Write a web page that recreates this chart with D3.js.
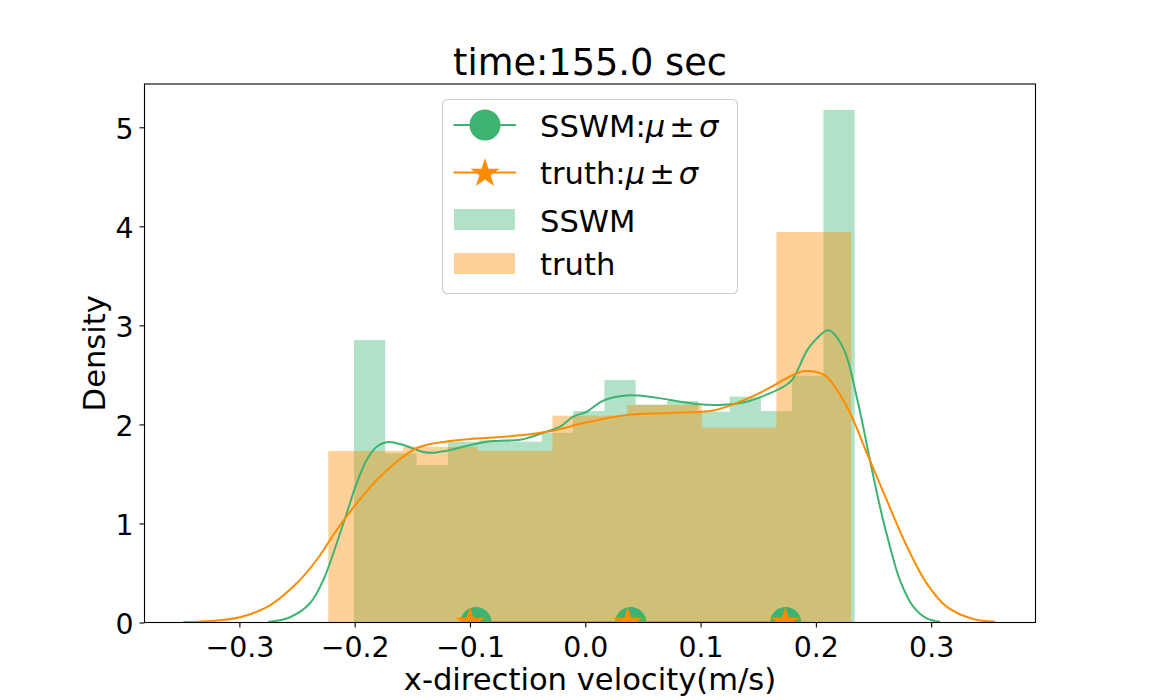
<!DOCTYPE html>
<html>
<head>
<meta charset="utf-8">
<script src="https://cdn.jsdelivr.net/npm/d3@7"></script>
<style>
  body { margin: 0; background: #fff; }
  text { font-family: "DejaVu Sans", sans-serif; }
</style>
</head>
<body>
<div id="chart"></div>
<script>
// histogram bin edges and densities
var sswmEdges = [-0.2006, -0.1735, -0.1463, -0.1192, -0.0920, -0.0649, -0.0377, -0.0106,
                 0.0166, 0.0437, 0.0709, 0.0980, 0.1252, 0.1523, 0.1794, 0.2066, 0.2337];
var sswmHeights = [2.852, 1.708, 1.590, 1.826, 1.840, 1.826, 1.916, 2.135,
                   2.449, 2.200, 2.236, 2.128, 2.280, 2.135, 2.492, 5.175];
var truthEdges = [-0.2229, -0.1581, -0.0933, -0.0285, 0.0363, 0.1010, 0.1658, 0.2306];
var truthHeights = [1.732, 1.775, 1.732, 2.088, 2.196, 1.967, 3.943];

// kde curves
var sswmKdeX = [-0.2750, -0.2561, -0.2388, -0.2272, -0.2156, -0.2069, -0.1983, -0.1896, -0.1809, -0.1709,
                -0.1578, -0.1405, -0.1318, -0.1202, -0.0855, -0.0566, -0.0480, -0.0335, -0.0219, -0.0104,
                0.0012, 0.0156, 0.0359, 0.0590, 0.0735, 0.0966, 0.1168, 0.1400, 0.1573, 0.1747,
                0.1804, 0.1920, 0.1977, 0.2112, 0.2238, 0.2354, 0.2469, 0.2556, 0.2643, 0.2729,
                0.2845, 0.2961, 0.3076];
var sswmKdeY = [0.005, 0.053, 0.194, 0.429, 0.800, 1.103, 1.406, 1.641, 1.775, 1.823,
                1.792, 1.722, 1.714, 1.735, 1.826, 1.845, 1.870, 1.927, 1.977, 2.078,
                2.128, 2.240, 2.292, 2.274, 2.247, 2.206, 2.196, 2.229, 2.300, 2.400,
                2.465, 2.740, 2.830, 2.950, 2.770, 2.280, 1.641, 1.169, 0.765, 0.429,
                0.160, 0.042, 0.008];
var truthKdeX = [-0.3487, -0.3284, -0.2995, -0.2735, -0.2503, -0.2330, -0.2156, -0.1983, -0.1809, -0.1636,
                 -0.1462, -0.1347, -0.1188, -0.0913, -0.0711, -0.0566, -0.0306, 0.0012, 0.0359, 0.0735,
                 0.1110, 0.1342, 0.1573, 0.1804, 0.1906, 0.2036, 0.2094, 0.2267, 0.2441, 0.2614,
                 0.2788, 0.2961, 0.3134, 0.3365, 0.3553];
var truthKdeY = [0.005, 0.012, 0.053, 0.174, 0.396, 0.631, 0.934, 1.203, 1.438, 1.623,
                 1.762, 1.802, 1.830, 1.860, 1.875, 1.890, 1.930, 2.021, 2.096, 2.115,
                 2.140, 2.230, 2.353, 2.501, 2.539, 2.519, 2.482, 2.185, 1.714, 1.237,
                 0.772, 0.395, 0.160, 0.035, 0.008];

// mu - sigma, mu, mu + sigma
var sswmMuSigma = [-0.0948, 0.0394, 0.1738];
var truthMuSigma = [-0.0999, 0.0368, 0.1735];

var xTicks = [-0.3, -0.2, -0.1, 0.0, 0.1, 0.2, 0.3];
var yTicks = [0, 1, 2, 3, 4, 5];

(function () {
  var green = "#3cb371", orange = "#ff8c00";
  var W = 1150, H = 700;
  var axL = 144.5, axR = 1035.5, axT = 84, axB = 622.5;

  var svg = d3.select("#chart").append("svg").attr("width", W).attr("height", H);

  var x = d3.scaleLinear().domain([-0.3823, 0.3905]).range([axL, axR]);
  var y = d3.scaleLinear().domain([0, 5.437]).range([axB, axT]);

  svg.append("defs").append("clipPath").attr("id", "plotclip")
    .append("rect").attr("x", axL).attr("y", axT)
    .attr("width", axR - axL).attr("height", axB - axT);

  var plot = svg.append("g").attr("clip-path", "url(#plotclip)");

  var drawHist = function (edges, heights, color) {
    plot.append("g").selectAll("rect")
      .data(heights)
      .enter().append("rect")
        .attr("x", function (d, i) { return x(edges[i]); })
        .attr("width", function (d, i) { return x(edges[i + 1]) - x(edges[i]); })
        .attr("y", function (d) { return y(d); })
        .attr("height", function (d) { return y(0) - y(d); })
        .attr("fill", color)
        .attr("fill-opacity", 0.4);
  };
  drawHist(sswmEdges, sswmHeights, green);
  drawHist(truthEdges, truthHeights, orange);

  var kdeLine = d3.line()
    .x(function (d) { return x(d[0]); })
    .y(function (d) { return y(d[1]); })
    .curve(d3.curveCatmullRom.alpha(0.5));

  plot.append("path").attr("d", kdeLine(d3.zip(sswmKdeX, sswmKdeY)))
    .attr("fill", "none").attr("stroke", green).attr("stroke-width", 2);
  plot.append("path").attr("d", kdeLine(d3.zip(truthKdeX, truthKdeY)))
    .attr("fill", "none").attr("stroke", orange).attr("stroke-width", 2);

  var markR = 15.5;
  var starPath = d3.symbol().type(d3.symbolStar).size(markR * markR / 0.8908)();

  // mu +- sigma lines on the x axis
  plot.append("line")
    .attr("x1", x(sswmMuSigma[0])).attr("x2", x(sswmMuSigma[2]))
    .attr("y1", y(0)).attr("y2", y(0))
    .attr("stroke", green).attr("stroke-width", 2);
  plot.append("g").selectAll("circle").data(sswmMuSigma).enter().append("circle")
    .attr("cx", function (d) { return x(d); }).attr("cy", y(0)).attr("r", markR)
    .attr("fill", green);
  plot.append("line")
    .attr("x1", x(truthMuSigma[0])).attr("x2", x(truthMuSigma[2]))
    .attr("y1", y(0)).attr("y2", y(0))
    .attr("stroke", orange).attr("stroke-width", 2);
  plot.append("g").selectAll("path").data(truthMuSigma).enter().append("path")
    .attr("d", starPath)
    .attr("transform", function (d) { return "translate(" + x(d) + "," + y(0) + ")"; })
    .attr("fill", orange);

  // axes
  var xAxis = svg.append("g").attr("transform", "translate(0," + axB + ")")
    .call(d3.axisBottom(x).tickValues(xTicks).tickFormat(d3.format(".1f"))
      .tickSize(5).tickSizeOuter(0).tickPadding(9.5));
  var yAxis = svg.append("g").attr("transform", "translate(" + axL + ",0)")
    .call(d3.axisLeft(y).tickValues(yTicks).tickFormat(d3.format("d"))
      .tickSize(5).tickSizeOuter(0).tickPadding(6));
  [xAxis, yAxis].forEach(function (a) {
    a.attr("font-size", 28.4).attr("font-family", "DejaVu Sans");
    a.select(".domain").remove();
    a.selectAll(".tick line").attr("stroke", "#000").attr("stroke-width", 1.1);
    a.selectAll(".tick text").attr("fill", "#000");
  });
  yAxis.selectAll(".tick text").attr("dy", "0.38em");

  svg.append("rect").attr("x", axL).attr("y", axT)
    .attr("width", axR - axL).attr("height", axB - axT)
    .attr("fill", "none").attr("stroke", "#000").attr("stroke-width", 1.1);

  svg.append("text").attr("x", (axL + axR) / 2).attr("y", 75)
    .attr("text-anchor", "middle").attr("font-size", 36.7).text("time:155.0 sec");
  svg.append("text").attr("x", (axL + axR) / 2).attr("y", 690)
    .attr("text-anchor", "middle").attr("font-size", 30.6).text("x-direction velocity(m/s)");
  svg.append("text").attr("transform", "translate(105," + (axT + axB) / 2 + ") rotate(-90)")
    .attr("text-anchor", "middle").attr("font-size", 30.6).text("Density");

  // legend
  var lg = svg.append("g");
  lg.append("rect").attr("x", 442.5).attr("y", 99.5).attr("width", 295).attr("height", 194)
    .attr("rx", 5).attr("fill", "#fff").attr("fill-opacity", 0.8)
    .attr("stroke", "#cccccc").attr("stroke-width", 1.1);

  var hx0 = 453.5, hx1 = 516, hxm = 485, tx = 540;
  lg.append("line").attr("x1", hx0).attr("x2", hx1).attr("y1", 125).attr("y2", 125)
    .attr("stroke", green).attr("stroke-width", 2);
  lg.append("circle").attr("cx", hxm).attr("cy", 125).attr("r", markR).attr("fill", green);
  lg.append("line").attr("x1", hx0).attr("x2", hx1).attr("y1", 172.5).attr("y2", 172.5)
    .attr("stroke", orange).attr("stroke-width", 2);
  lg.append("path").attr("d", starPath).attr("transform", "translate(" + hxm + ",173.5)")
    .attr("fill", orange);
  lg.append("rect").attr("x", 454).attr("y", 209).attr("width", 61).attr("height", 21)
    .attr("fill", green).attr("fill-opacity", 0.4);
  lg.append("rect").attr("x", 454).attr("y", 253).attr("width", 61).attr("height", 21)
    .attr("fill", orange).attr("fill-opacity", 0.4);

  // mathtext-like label: tighter spacing round the plus-minus sign
  var mathLabel = function (name, yb) {
    var t = lg.append("text").attr("x", tx).attr("y", yb).attr("font-size", 30.6);
    t.append("tspan").text(name + ":");
    t.append("tspan").attr("font-style", "italic").text("\u03bc");
    t.append("tspan").attr("dx", 4).text("\u00b1");
    t.append("tspan").attr("dx", 4).attr("font-style", "italic").text("\u03c3");
  };
  mathLabel("SSWM", 136.5);
  mathLabel("truth", 184);
  lg.append("text").attr("x", tx).attr("y", 231.5).attr("font-size", 30.6).text("SSWM");
  lg.append("text").attr("x", tx).attr("y", 274.5).attr("font-size", 30.6).text("truth");
})();
</script>
</body>
</html>
